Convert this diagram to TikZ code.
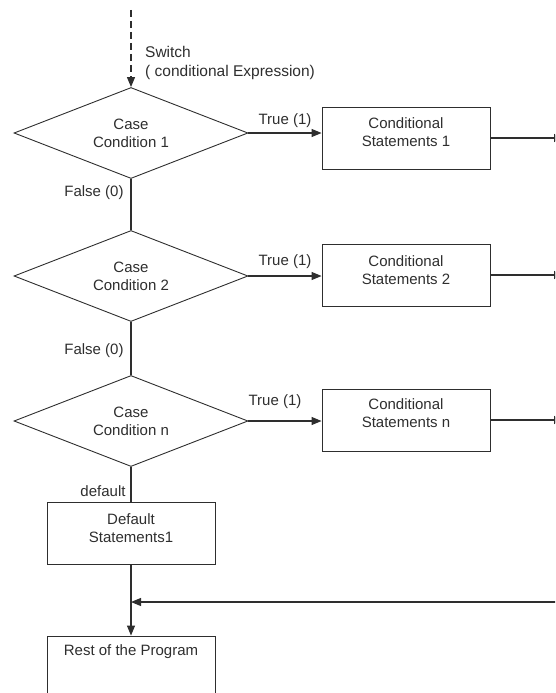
\documentclass[tikz,border=0pt]{standalone}
\usepackage{fontspec}
\setmainfont{Liberation Sans}
\usetikzlibrary{shapes.geometric,arrows.meta}
\definecolor{ink}{HTML}{2E2E2E}
\begin{document}
\begin{tikzpicture}[x=1pt,y=-1pt,
  every node/.style={text=ink, font=\fontsize{15}{18}\selectfont},
  line/.style={draw=ink, line width=1.1pt},
  tip/.style={-{Triangle[length=10pt,width=8pt]}},
  decision/.style={diamond, draw=ink, line width=0.9pt, shape aspect=2.57,
    minimum width=234pt, minimum height=91pt, inner sep=0pt, align=center},
  stmt/.style={rectangle, draw=ink, line width=0.9pt,
    minimum width=168pt, minimum height=62pt, inner sep=0pt},
  boxtext/.style={align=center, inner sep=0pt},
  lbl/.style={inner sep=0pt}
]
\useasboundingbox (0,0) rectangle (555,693);
\clip (0,0) rectangle (555,693);

% decisions
\node[decision] (d1) at (131,133) {Case\\Condition 1};
\node[decision] (d2) at (131,276) {Case\\Condition 2};
\node[decision] (d3) at (131,421) {Case\\Condition n};

% statement boxes
\node[stmt] (s1) at (406,138) {};
\node[boxtext] (s1t) at ([yshift=6pt]s1.center) {Conditional\\Statements 1};
\node[stmt] (s2) at (406,275) {};
\node[boxtext] (s2t) at ([yshift=5pt]s2.center) {Conditional\\Statements 2};
\node[stmt] (s3) at (406,420) {};
\node[boxtext] (s3t) at ([yshift=7pt]s3.center) {Conditional\\Statements n};

\node[stmt] (def) at (131,533) {};
\node[boxtext] (deft) at ([yshift=5pt]def.center) {Default\\Statements1};

\node[stmt, minimum height=80pt] (rest) at (131,676) {};
\node[boxtext] (restt) at (131,652) {Rest of the Program};

% entry
\coordinate (entry) at (131,10);
\draw[line, dashed, dash pattern=on 7pt off 4pt, tip] (entry) -- (d1.north);
\node[lbl, anchor=west, font=\fontsize{15.5}{18}\selectfont] (sw1) at (145,52) {Switch};
\node[lbl, anchor=west, font=\fontsize{15.5}{18}\selectfont] (sw2) at (145,72) {( conditional Expression)};

% true branches
\draw[line, tip] (d1.east) -- (d1.east -| s1.west);
\draw[line, tip] (d2.east) -- (d2.east -| s2.west);
\draw[line, tip] (d3.east) -- (d3.east -| s3.west);
\node[lbl] (t1) at (285,121) {True (1)};
\node[lbl] (t2) at (285,262) {True (1)};
\node[lbl] (t3) at (275,402) {True (1)};

% outgoing lines to the right
\coordinate (edge) at (564,0);
\draw[line, tip] (s1.east) -- (s1.east -| edge);
\draw[line, tip] (s2.east) -- (s2.east -| edge);
\draw[line, tip] (s3.east) -- (s3.east -| edge);

% false branches
\draw[line] (d1.south) -- (d2.north);
\draw[line] (d2.south) -- (d3.north);
\draw[line] (d3.south) -- (def.north);
\node[lbl] (f1) at (94,193) {False (0)};
\node[lbl] (f2) at (94,351) {False (0)};
\node[lbl] (dl) at (103,491) {default};

% merge into rest of program
\draw[line, tip] (def.south) -- (rest.north);
\coordinate (ret) at (560,602);
\draw[line, tip] (ret) -- (ret -| def.south);
\end{tikzpicture}
\end{document}
